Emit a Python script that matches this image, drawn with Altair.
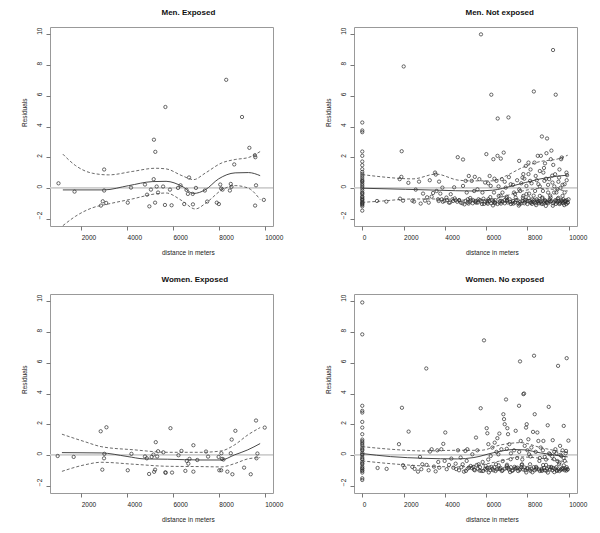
import altair as alt
import pandas as pd

FONT = "Liberation Sans"

# ---------------- Men. Exposed ----------------
me_pts = [(1010,0.30),(1710,-0.24),(3000,1.20),(3000,-0.17),(2860,-1.15),(2940,-0.87),(3090,-0.98),
          (4030,-0.96),(4170,0.02),(4780,0.22),(4870,-0.44),(4970,-1.20),(5040,-0.11),(5160,0.57),
          (5170,3.14),(5230,2.35),(5220,-0.96),(5290,0.09),(5350,-0.30),(5570,0.09),(5650,-1.11),
          (5670,5.27),(5870,-0.11),(5940,-1.13),(6220,0.00),(6330,0.17),(6490,-1.05),(6590,-0.13),
          (6650,-0.39),(6700,0.68),(6860,-0.39),(6870,-1.07),(7000,0.00),(7390,-0.17),(7490,-0.89),
          (7910,-0.96),(8000,-1.05),(8060,0.22),(8100,-0.04),(8160,-0.11),(8320,7.04),(8480,-0.17),
          (8520,0.26),(8550,0.07),(8670,1.53),(9010,4.62),(9330,2.61),(9570,2.13),(9590,2.00),
          (9620,0.17),(9580,-1.15),(9960,-0.78)]
me_mid = [(1200,-0.13),(2985,-0.13),(4070,0.15),(5090,0.41),(5700,0.43),(6390,0.11),(6900,-0.36),
          (7400,-0.13),(7990,0.59),(8710,0.98),(9290,1.0),(9800,0.8)]
me_up = [(1200,2.2),(1750,1.46),(2480,0.96),(3200,0.85),(4220,1.07),(5230,1.28),(5700,1.24),(6390,0.8),
         (6900,0.54),(7400,0.96),(8130,1.63),(8710,1.85),(9290,1.98),(9800,2.37)]
me_lo = [(1200,-2.46),(1750,-1.85),(2480,-1.3),(3200,-1.04),(4220,-0.72),(5230,-0.39),(5700,-0.33),
         (6390,-0.83),(6970,-1.37),(7480,-0.93),(8130,-0.13),(8710,0.15),(9290,-0.02),(9800,-0.76)]

# ---------------- Men. Not exposed ----------------
mn_zero_y = [4.26,3.74,3.63,2.37,2.09,1.72,1.48,1.22,1.04,0.91,0.78,0.65,0.52,0.45,0.39,0.28,0.17,0.07,
             -0.04,-0.17,-0.30,-0.35,-0.43,-0.57,-0.60,-0.70,-0.75,-0.80,-0.89,-0.95,-1.00,-1.05,-1.11,
             -1.20,-1.48]
mn_pts = [(715,-0.85),(1167,-0.89),(1813,0.57),(1894,0.72),(1830,-0.70),(1975,-0.83),(1910,2.39),
          (2007,7.91),(2233,0.33),(2427,-0.83),(2508,-0.89),(2590,-0.11),(2750,0.41),(2830,-1.02),
          (2944,-0.37),(3040,-0.83),(3140,-0.61),(3220,-0.96),(3270,0.50),(3360,-0.57),(3430,-0.33),
          (3525,1.00),(3560,0.87),(3600,-0.20),(3670,-0.74),(3720,0.41),(3780,-0.37),(3850,-0.74),
          (3880,0.02),(3980,-0.85),(4075,-0.63),(4200,-0.96),(4285,-0.41),(4365,-0.74),(4450,0.04),
          (4525,-0.80),(4625,2.00),(4690,-0.80),(4770,-0.96),(4880,1.85),(4880,0.13),(4950,-1.07),
          (5010,0.46),(5060,-0.30),(5110,-0.74),(5160,0.78),(5200,-0.91),(5300,0.46),(5370,-0.80),
          (5420,-0.20),(5450,0.72),(5530,-0.96),(5580,-0.09),(5630,-0.74),(5670,0.57),(5750,10.0),
          (5820,-0.30),(5900,-1.04),(5950,0.35),(6010,2.20),(6060,-0.85),(6110,-0.74),(6170,0.78),
          (6220,0.13),(6250,6.07),(6300,-0.80),(6350,1.87),(6380,-0.30),(6430,-1.00),(6500,0.46),
          (6550,2.09),(6560,4.52),(6610,-0.52),(6680,-0.85),(6710,1.91),(6760,0.57),(6790,-0.30),
          (6850,2.30),(6890,-0.80),(6950,0.02),(7000,-0.57),(7080,4.59),(7140,-0.74),(7190,0.24),
          (7270,-0.96),(7350,-0.30),(7430,-0.63),(7520,-0.80),(7600,1.76),(7650,-0.20),(7710,-1.00),
          (7760,0.67),(7800,-0.52),(7860,-0.80),(7920,1.43),(7950,0.13),(8000,-0.85),(8050,1.65),
          (8080,-0.37),(8130,0.46),(8180,-0.96),(8240,-0.74),(8310,6.28),(8340,1.65),(8370,-0.20),
          (8400,0.78),(8450,-0.74),(8500,2.09),(8530,0.24),(8560,-1.00),(8600,-0.52),(8650,2.09),
          (8700,3.35),(8730,-0.63),(8770,1.00),(8820,0.46),(8860,-0.85),(8890,-1.17),(8920,2.26),
          (8950,3.22),(9000,-0.30),(9050,0.57),(9080,-0.74),(9130,1.87),(9160,2.43),(9210,0.35),
          (9240,8.98),(9290,-0.30),(9340,0.89),(9370,6.07),(9400,-0.85),(9450,-0.09),(9500,-0.65),
          (9530,0.67),(9580,-1.00),(9630,1.87),(9660,1.98),(9700,-0.52),(9740,-0.74),(9800,0.24),
          (9840,-0.85),(9890,1.00),(9920,0.83),(9950,-0.96),(9990,-0.74),
          # dense lower band
          (3700,-0.85),(3900,-0.90),(4100,-0.80),(4250,-0.95),(4400,-0.85),(4600,-0.90),(4700,-0.80),
          (4850,-1.00),(5000,-0.85),(5100,-0.95),(5250,-0.80),(5350,-1.00),(5500,-0.85),(5600,-0.95),
          (5700,-0.80),(5800,-1.05),(5950,-0.90),(6050,-0.95),(6150,-0.85),(6250,-1.00),(6350,-0.90),
          (6450,-0.80),(6550,-1.05),(6650,-0.95),(6750,-0.85),(6800,-0.90),(6900,-1.00),(7000,-0.85),
          (7050,-0.95),(7150,-0.90),(7200,-1.05),(7300,-0.85),(7400,-0.95),(7450,-0.80),(7550,-1.00),
          (7650,-0.90),(7750,-0.85),(7850,-1.00),(7900,-0.90),(8000,-1.05),(8100,-0.85),(8150,-0.95),
          (8250,-0.90),(8300,-0.80),(8400,-1.00),(8500,-0.90),(8550,-0.85),(8650,-0.95),(8700,-1.05),
          (8800,-0.90),(8850,-0.80),(8950,-0.95),(9000,-1.00),(9100,-0.90),(9150,-0.85),(9250,-1.00),
          (9300,-0.90),(9350,-0.80),(9450,-0.95),(9500,-0.85),(9550,-1.05),(9600,-0.90),(9650,-0.80),
          (9700,-0.95),(9750,-1.00),(9800,-0.85),(9850,-0.90),(9900,-0.80),(9950,-0.95),
          (5150,-1.02),(5480,-0.92),(5760,-0.88),(6080,-1.03),(6420,-0.93),(6720,-1.02),(7020,-0.78),
          (7320,-1.02),(7620,-1.06),(7920,-0.78),(8220,-1.04),(8480,-0.82),(8780,-1.02),(9060,-0.83),
          (9380,-1.04),(9680,-0.86),(9880,-1.05),(8920,-0.92),(8620,-0.88),(8340,-0.92),
          (4480,-0.68),(5230,-0.66),(5870,-0.70),(6330,-1.14),(6980,-0.66),(7580,-1.15),(8060,-0.66),
          (8710,-0.68),(9230,-1.16),(9470,-0.70),(9780,-1.12),(9120,-0.62),(8420,-1.12),(7780,-0.64),
          # middle cloud
          (6100,0.30),(6400,0.60),(6600,0.10),(6900,0.40),(7100,0.70),(7300,0.20),(7500,0.50),
          (7600,-0.10),(7700,0.30),(7850,0.60),(7950,-0.40),(8050,0.90),(8200,0.30),(8300,-0.50),
          (8450,0.50),(8600,0.10),(8750,-0.20),(8900,0.60),(9000,0.20),(9100,-0.50),(9200,0.80),
          (9300,0.10),(9400,-0.30),(9500,0.40),(9600,0.00),(9700,0.20),(9800,-0.30),(9900,0.50),
          (8800,1.30),(9250,1.50),(8600,1.10),(7800,0.90),(8150,1.20),(8850,1.60),(9550,1.20),
          (7400,-0.40),(6700,-0.50),(6200,-0.60)]
mn_mid = [(0,-0.02),(2100,-0.09),(3720,-0.15),(5330,-0.2),(6300,-0.15),(7270,0.13),(8560,0.57),
          (9530,0.78),(9950,0.83)]
mn_up = [(0,0.87),(810,0.74),(2460,0.59),(3570,0.9),(4680,0.5),(5330,0.46),(6300,0.46),(6950,0.78),
         (7760,1.33),(8560,1.7),(9530,1.91),(9950,2.13)]
mn_lo = [(0,-0.94),(810,-0.87),(2460,-0.72),(4000,-0.72),(5000,-0.8),(6300,-0.74),(6950,-0.52),
         (7760,-0.2),(8560,-0.04),(9530,-0.13),(9950,-0.2)]

# ---------------- Women. Exposed ----------------
we_pts = [(974,-0.07),(1672,-0.13),(2850,1.54),(3100,1.80),(2920,-0.96),(2995,-0.22),(3010,0.07),
          (4030,-1.00),(4190,0.07),(4780,-0.10),(4860,-0.22),(4960,-1.24),(5070,-0.13),(5150,0.02),
          (5180,-1.10),(5220,-0.96),(5250,0.83),(5310,-0.10),(5350,0.24),(5580,0.17),(5670,-1.13),
          (5680,-1.17),(5890,1.74),(5960,-1.15),(6240,-0.02),(6370,0.26),(6540,-1.04),(6600,-0.39),
          (6670,-0.57),(6720,-0.26),(6890,0.63),(6890,-1.09),(7060,-0.33),(7440,0.22),(7530,-0.11),
          (7990,-0.13),(8020,-1.00),(8100,-1.00),(8110,0.11),(8140,-0.26),(8200,-0.30),(8370,-1.09),
          (8520,0.11),(8560,1.00),(8590,-1.26),(8720,1.57),(9100,-0.83),(9390,-1.26),(9620,2.24),
          (9640,-0.22),(9680,0.09),(10000,1.78)]
we_mid = [(1160,0.15),(2870,0.13),(4000,-0.1),(4750,-0.26),(5770,-0.28),(7220,-0.33),(8100,-0.33),
          (8680,0.0),(9260,0.33),(9800,0.74)]
we_up = [(1160,1.35),(2140,0.87),(2870,0.54),(4320,0.33),(5770,0.17),(7220,0.17),(8100,0.26),
         (8680,0.65),(9260,1.3),(9800,1.78)]
we_lo = [(1160,-1.07),(2140,-0.65),(2870,-0.48),(4320,-0.61),(5770,-0.74),(7220,-0.76),(8100,-0.78),
         (8680,-0.57),(9260,-0.26),(9800,-0.17)]

# ---------------- Women. No exposed ----------------
wn_zero_y = [9.93,7.85,3.20,2.87,2.76,2.15,1.78,1.35,1.00,0.90,0.80,0.70,0.60,0.45,0.35,0.30,0.15,0.05,
             0.00,-0.15,-0.25,-0.30,-0.45,-0.55,-0.60,-0.75,-0.85,-0.90,-1.00,-1.05,-1.15,-1.52,-1.63]
wn_pts = [(743,-0.85),(1180,-0.91),(1777,0.70),(1922,3.07),(1971,-0.67),(2050,-0.83),(2245,1.52),
          (2423,-0.78),(2536,-0.91),(2700,-1.09),(2795,-0.13),(2860,-0.93),(2908,-0.61),(3100,5.63),
          (3118,-0.65),(3215,-1.00),(3280,0.22),(3360,0.37),(3473,-0.76),(3554,-1.07),(3635,0.30),
          (3680,-0.46),(3730,-0.83),(3830,0.37),(3925,0.72),(3990,-0.39),(4020,1.46),(4090,-0.93),
          (4200,-0.65),(4313,-0.24),(4410,-0.83),(4523,-0.57),(4636,0.30),(4685,-1.00),(4766,-0.17),
          (4863,-0.61),(4927,-1.09),(4992,0.26),(5057,-0.39),(5089,0.37),(5170,-0.83),(5250,-0.72),
          (5331,0.04),(5412,-0.96),(5509,1.13),(5573,0.30),(5638,-0.61),(5735,3.04),(5767,-1.04),
          (5832,-0.46),(5896,7.46),(5977,-0.72),(6026,1.74),(6058,1.41),(6107,0.70),(6155,-0.83),
          (6220,-0.07),(6300,0.48),(6350,-1.00),(6414,0.80),(6478,-0.61),(6543,1.09),(6591,0.04),
          (6640,1.39),(6672,-0.93),(6737,0.37),(6834,2.65),(6866,2.33),(6898,2.00),(6963,3.61),
          (6995,-0.72),(7027,1.74),(7060,1.35),(7124,0.70),(7189,-0.28),(7254,-1.04),(7350,0.30),
          (7431,1.57),(7512,-0.83),(7593,3.20),(7641,6.09),(7674,0.91),(7738,-0.61),(7803,3.96),
          (7835,4.00),(7867,0.59),(7932,1.78),(7964,2.00),(7997,-0.89),(8045,1.02),(8078,0.04),
          (8126,-0.61),(8190,0.48),(8271,1.50),(8320,6.46),(8352,2.65),(8417,-0.93),(8480,1.46),
          (8530,0.91),(8578,-0.39),(8643,0.48),(8708,-1.04),(8772,0.91),(8837,-0.13),(8900,-0.65),
          (8982,1.93),(9030,3.13),(9095,0.04),(9160,-0.83),(9224,0.96),(9289,-0.28),(9354,0.37),
          (9418,-1.00),(9483,5.80),(9531,-0.61),(9580,0.59),(9645,-0.07),(9709,-0.93),(9758,1.89),
          (9806,-0.39),(9870,0.26),(9935,-0.93),(9984,0.93),(9900,6.30),
          # dense lower band
          (5100,-0.90),(5300,-0.85),(5450,-1.00),(5600,-0.90),(5700,-0.80),(5850,-1.05),(5950,-0.90),
          (6050,-0.85),(6200,-1.00),(6300,-0.90),(6400,-0.80),(6450,-1.05),(6600,-0.90),(6700,-0.85),
          (6800,-1.00),(6900,-0.90),(7000,-0.85),(7100,-0.95),(7200,-0.80),(7300,-1.00),(7400,-0.90),
          (7450,-0.85),(7550,-1.05),(7650,-0.90),(7700,-0.80),(7800,-0.95),(7900,-1.00),(8000,-0.85),
          (8100,-0.95),(8200,-0.90),(8300,-0.80),(8350,-1.00),(8450,-0.85),(8550,-0.95),(8600,-1.05),
          (8700,-0.90),(8800,-0.85),(8850,-1.00),(8950,-0.90),(9050,-0.80),(9100,-0.95),(9200,-1.00),
          (9250,-0.85),(9350,-0.90),(9400,-0.80),(9500,-0.95),(9550,-1.05),(9650,-0.90),(9700,-0.85),
          (9800,-1.00),(9850,-0.90),(9900,-0.80),(9950,-0.95),
          (4550,-0.92),(4800,-0.80),(5020,-1.04),(5380,-0.78),(5680,-1.02),(6000,-0.96),(6250,-0.78),
          (6520,-0.94),(6760,-1.05),(7080,-0.86),(7380,-0.78),(7620,-0.98),(7860,-0.82),(8150,-1.04),
          (8420,-0.78),(8680,-0.98),(8920,-1.03),(9150,-0.78),(9420,-1.04),(9620,-0.97),(9880,-1.02),
          (5540,-0.66),(6130,-1.14),(6610,-0.68),(7160,-1.12),(7720,-0.66),(8240,-1.13),(8760,-0.66),
          (9300,-1.12),(9760,-0.68),(8990,-1.15),(7940,-1.14),(7010,-0.64),
          # middle cloud
          (6100,-0.30),(6500,0.20),(6800,-0.40),(7000,0.40),(7200,0.10),(7500,-0.20),(7600,0.20),
          (7750,-0.30),(8000,0.30),(8150,-0.10),(8400,0.20),(8600,-0.20),(8750,0.30),(8900,-0.30),
          (9050,0.10),(9200,-0.10),(9300,0.20),(9450,-0.40),(9600,0.00),(9750,-0.20),(9850,0.10),
          (9700,0.30),(9550,-0.50),(9400,0.10)]
wn_mid = [(0,0.09),(1373,-0.11),(2990,-0.22),(4600,-0.26),(5410,-0.17),(6380,0.15),(7350,0.35),
          (7835,0.33),(8640,0.13),(9610,-0.07),(9950,-0.13)]
wn_up = [(0,0.54),(1373,0.37),(2990,0.26),(4600,0.3),(5735,0.3),(6700,0.65),(7674,0.8),(8640,0.48),
         (9610,0.22),(9950,0.15)]
wn_lo = [(0,-0.39),(1373,-0.57),(2990,-0.72),(4600,-0.78),(5735,-0.65),(6700,-0.39),(7674,-0.13),
         (8640,-0.22),(9610,-0.39),(9950,-0.46)]

Y_TICKS = [-2, 0, 2, 4, 6, 8, 10]
X_TICKS_EXP = [2000, 4000, 6000, 8000, 10000]
X_TICKS_NEXP = [0, 2000, 4000, 6000, 8000, 10000]

W, H = 223, 199


def panel(title, pts, zero_y, mid, up, lo, xdom, xticks):
    allpts = list(pts) + [(0, v) for v in zero_y]
    dpts = pd.DataFrame(allpts, columns=["x", "y"])
    dmid = pd.DataFrame(mid, columns=["x", "y"])
    dband = pd.concat([
        pd.DataFrame(up, columns=["x", "y"]).assign(b="up"),
        pd.DataFrame(lo, columns=["x", "y"]).assign(b="lo"),
    ])
    xs = alt.Scale(domain=xdom, nice=False, zero=False)
    ys = alt.Scale(domain=[-2.48, 10.48], nice=False, zero=False)
    xax = alt.Axis(values=xticks, title="distance in meters", grid=False, domain=False,
                   tickSize=4, tickColor="#777", labelFontSize=6.5, titleFontSize=6.5,
                   labelFont=FONT, titleFont=FONT, titleFontWeight="normal",
                   labelColor="#222", titleColor="#222", labelAlign="left",
                   labelPadding=4, titlePadding=9, titleAlign="left", format="d",
                   labelOverlap=False)
    yax = alt.Axis(values=Y_TICKS, title="Residuals", grid=False, domain=False,
                   tickSize=4, tickColor="#777", labelFontSize=6.5, titleFontSize=6.5,
                   labelFont=FONT, titleFont=FONT, titleFontWeight="normal",
                   labelColor="#222", titleColor="#222", labelAngle=270,
                   labelAlign="left", labelBaseline="bottom", labelPadding=4,
                   titleAngle=270, titleAlign="left", titleBaseline="bottom",
                   titlePadding=9, labelOverlap=False)
    base_x = alt.X("x:Q", scale=xs, axis=xax)
    base_y = alt.Y("y:Q", scale=ys, axis=yax)

    zero = alt.Chart(pd.DataFrame({"z": [0]})).mark_rule(color="#cfcfcf", strokeWidth=1.6).encode(
        y=alt.Y("z:Q", scale=ys, axis=yax))
    points = alt.Chart(dpts).mark_point(shape="circle", filled=False, size=11, color="#2a2a2a",
                                        strokeWidth=0.7, opacity=1).encode(x=base_x, y=base_y)
    midl = alt.Chart(dmid).mark_line(color="#333", strokeWidth=0.9, interpolate="monotone").encode(
        x=base_x, y=base_y)
    band = alt.Chart(dband).mark_line(color="#444", strokeWidth=0.8, strokeDash=[3, 2],
                                      interpolate="monotone").encode(
        x=base_x, y=base_y, detail="b:N")
    return alt.layer(zero, points, midl, band).properties(
        width=W, height=H,
        title=alt.TitleParams(title, anchor="middle", align="left", fontSize=8, font=FONT,
                              fontWeight="bold", offset=10, color="#111"))


p1 = panel("Men. Exposed", me_pts, [], me_mid, me_up, me_lo, [640, 10360], X_TICKS_EXP)
p2 = panel("Men. Not exposed", mn_pts, mn_zero_y, mn_mid, mn_up, mn_lo, [-400, 10400], X_TICKS_NEXP)
p3 = panel("Women. Exposed", we_pts, [], we_mid, we_up, we_lo, [640, 10360], X_TICKS_EXP)
p4 = panel("Women. No exposed", wn_pts, wn_zero_y, wn_mid, wn_up, wn_lo, [-400, 10400], X_TICKS_NEXP)

chart = alt.vconcat(
    alt.hconcat(p1, p2, spacing=40),
    alt.hconcat(p3, p4, spacing=40),
    spacing=18,
).properties(
    padding={"left": 12, "top": 0, "right": 0, "bottom": 0},
    background="white",
).configure_view(stroke="#999", strokeWidth=1)

chart.save("out.html", embed_options={"renderer": "svg", "actions": False})
